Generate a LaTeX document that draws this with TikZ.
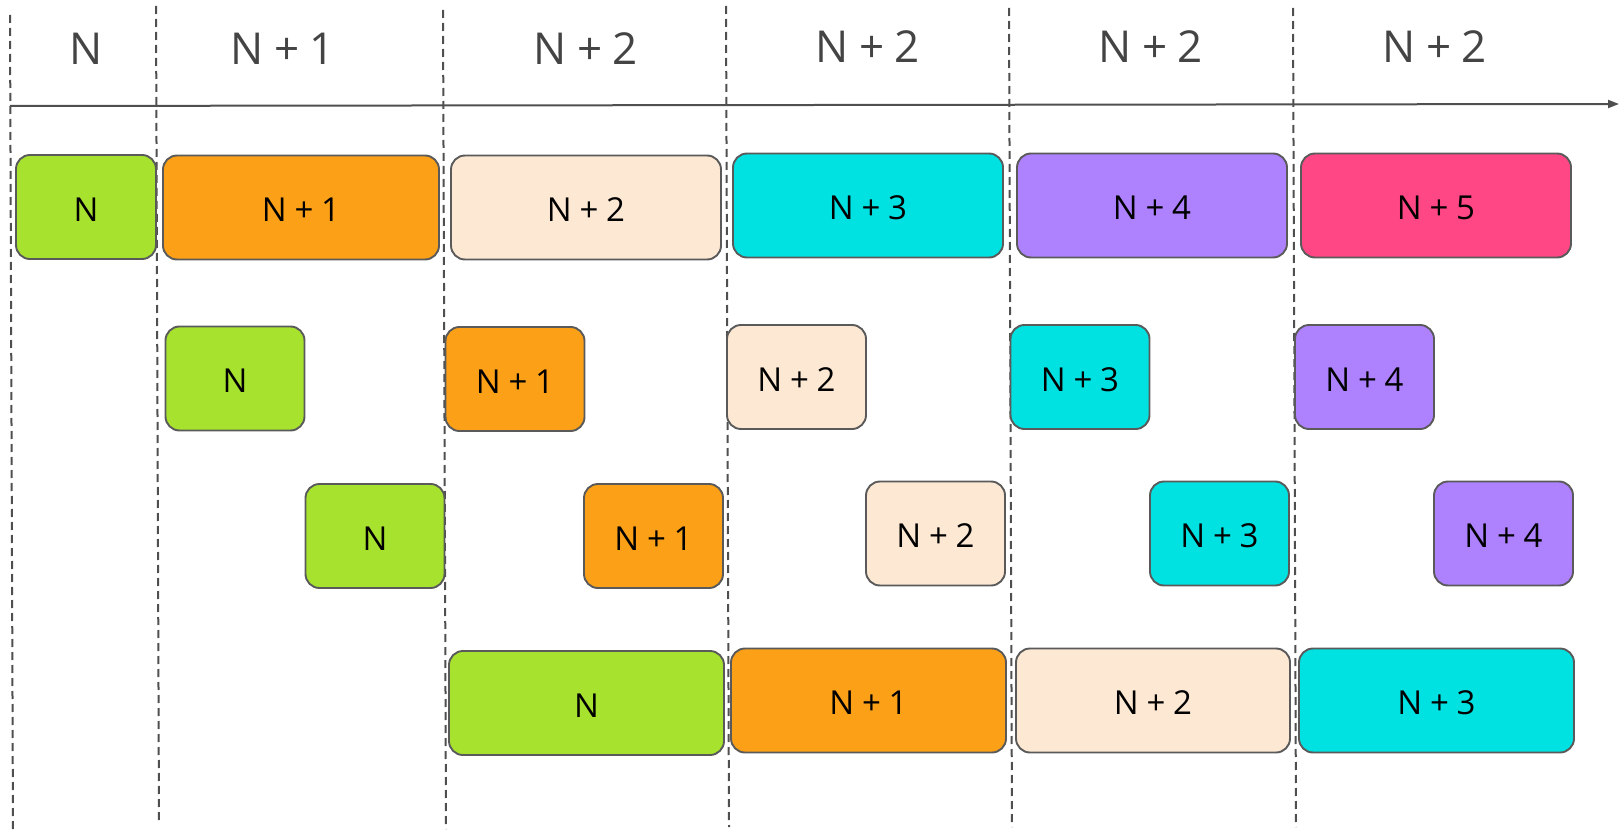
\documentclass[tikz,border=0pt]{standalone}
\usepackage{fontspec}
\setmainfont{Open Sans}[WordSpace=0.9]
\usetikzlibrary{arrows.meta}
\definecolor{cgreen}{HTML}{A7E22E}
\definecolor{corange}{HTML}{FCA018}
\definecolor{cpeach}{HTML}{FDE8D3}
\definecolor{ccyan}{HTML}{00E1E1}
\definecolor{cpurple}{HTML}{AE81FF}
\definecolor{cpink}{HTML}{FF4785}
\definecolor{cborder}{HTML}{5A5A5A}
\definecolor{cline}{HTML}{4F4F4F}
\definecolor{chead}{HTML}{444444}
\tikzset{
  cell/.style={draw=cborder, line width=1.9pt, rounded corners=14pt, inner sep=0pt, outer sep=0pt,
    minimum height=104pt, font=\fontsize{33}{36}\selectfont, text=black,
    text height=28.5pt, text depth=0pt},
  small/.style={cell, minimum width=139pt},
  wide/.style={cell, minimum width=272pt},
  head/.style={font=\fontsize{44}{48}\selectfont, text=chead, inner sep=0pt},
  sep/.style={draw=cline, line width=2pt, dash pattern=on 8pt off 5pt},
  axis/.style={draw=cline, line width=2pt, -{Triangle[length=11pt,width=8pt]}}
}
\begin{document}
\begin{tikzpicture}[x=1pt,y=-1pt]
\useasboundingbox (0,0) rectangle (1620,832);
% separators
\coordinate (s1t) at (10,15);   \coordinate (s1b) at (13,832);
\coordinate (s2t) at (156,6);   \coordinate (s2b) at (159,824);
\coordinate (s3t) at (443,10);  \coordinate (s3b) at (446,829);
\coordinate (s4t) at (726,6);   \coordinate (s4b) at (729,827);
\coordinate (s5t) at (1009,8);  \coordinate (s5b) at (1012,827);
\coordinate (s6t) at (1293,8);  \coordinate (s6b) at (1296,827);
\foreach \i in {1,...,6} { \path[sep] (s\i t) -- (s\i b); }
% axis
\coordinate (ax0) at (10,106);
\coordinate (ax1) at (1619,104);
\path[axis] (ax0) -- (ax1);
% header labels
\node[head] (h1) at (86,49) {N};
\node[head] (h2) at (283,49) {N + 1};
\node[head] (h3) at (586,49) {N + 2};
\node[head] (h4) at (868,47) {N + 2};
\node[head] (h5) at (1151,47) {N + 2};
\node[head] (h6) at (1435,47) {N + 2};
% row 1
\node[small, minimum width=140pt, fill=cgreen] (g1) at (86,207) {N};
\node[wide, minimum width=276pt, fill=corange] (o1) at (301,207.5) {N + 1};
\node[wide, minimum width=270pt, fill=cpeach] (p1) at (586,207.5) {N + 2};
\node[wide, minimum width=270pt, fill=ccyan] (c1) at (868,205.5) {N + 3};
\node[wide, minimum width=270pt, fill=cpurple] (u1) at (1152,205.5) {N + 4};
\node[wide, minimum width=270pt, fill=cpink] (k1) at (1436,205.5) {N + 5};
% row 2
\node[small, fill=cgreen] (g2) at (235,378.5) {N};
\node[small, fill=corange] (o2) at (515,379) {N + 1};
\node[small, fill=cpeach] (p2) at (796.5,377) {N + 2};
\node[small, fill=ccyan] (c2) at (1080,377) {N + 3};
\node[small, fill=cpurple] (u2) at (1364.5,377) {N + 4};
% row 3
\node[small, fill=cgreen] (g3) at (375,536) {N};
\node[small, fill=corange] (o3) at (653.5,536) {N + 1};
\node[small, fill=cpeach] (p3) at (935.5,533.5) {N + 2};
\node[small, fill=ccyan] (c3) at (1219.5,533.5) {N + 3};
\node[small, fill=cpurple] (u3) at (1503.5,533.5) {N + 4};
% row 4
\node[wide, minimum width=275pt, fill=cgreen] (g4) at (586.5,703) {N};
\node[wide, minimum width=275pt, fill=corange] (o4) at (868.5,700.5) {N + 1};
\node[wide, minimum width=274pt, fill=cpeach] (p4) at (1153,700.5) {N + 2};
\node[wide, minimum width=275pt, fill=ccyan] (c4) at (1436.5,700.5) {N + 3};
\end{tikzpicture}
\end{document}
